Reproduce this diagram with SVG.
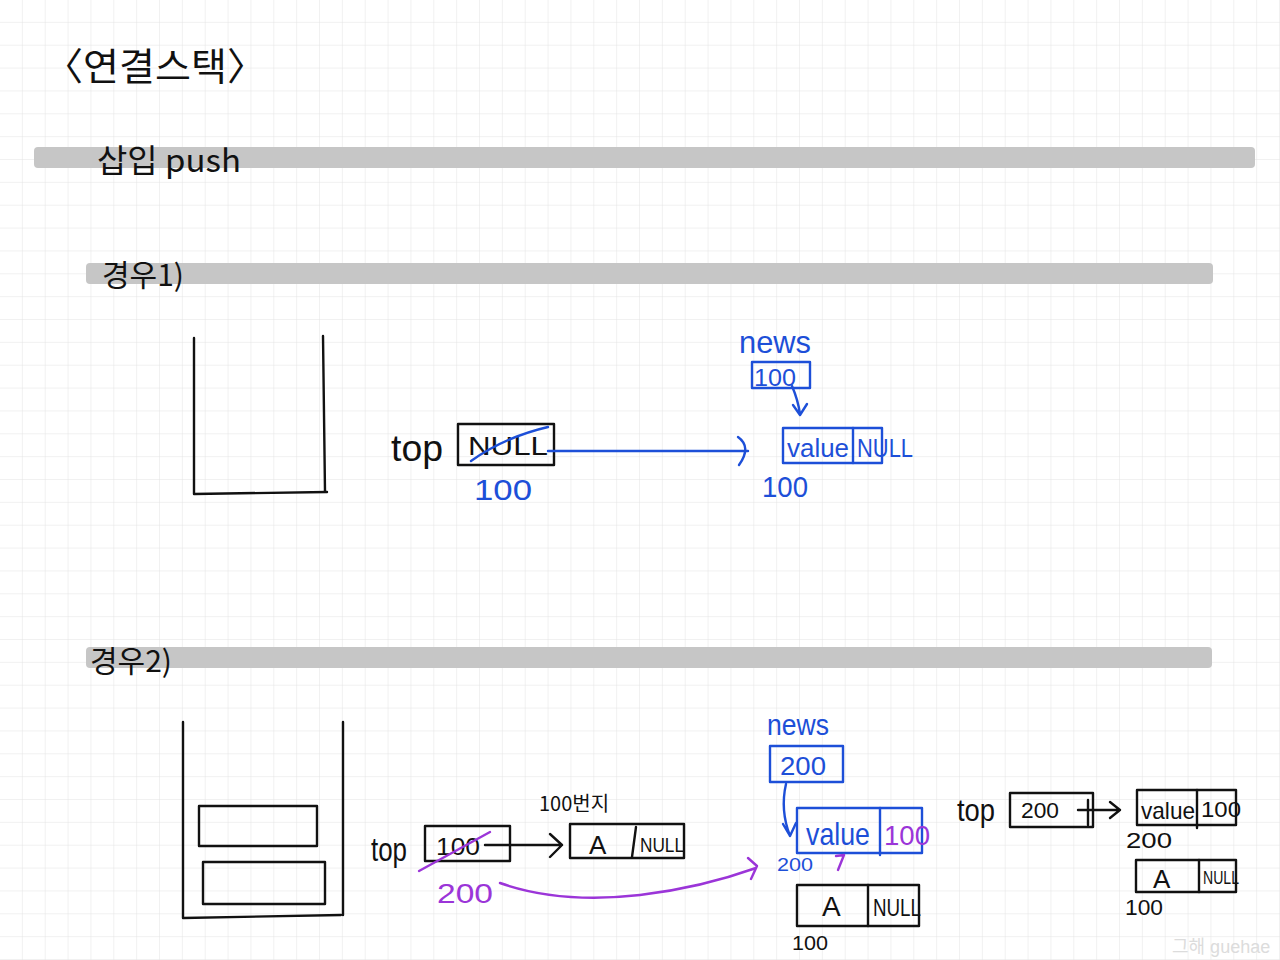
<svg xmlns="http://www.w3.org/2000/svg" width="1280" height="960" viewBox="0 0 1280 960">
<defs>
<pattern id="grid" width="22.857" height="22.857" patternUnits="userSpaceOnUse">
<path d="M22.857 0V22.857M0 22.857H22.857" fill="none" stroke="#e4e4e4" stroke-width="1"/>
</pattern>
<style>
.k{fill:#111;font-family:"Noto Sans CJK KR","Liberation Sans",sans-serif}
.t{font-family:"Liberation Sans","Noto Sans CJK KR",sans-serif}
.blk{fill:#111}
.blu{fill:#1d4fd8}
.pur{fill:#9b35d8}
.sb{fill:none;stroke:#111;stroke-width:2.4;stroke-linecap:round;stroke-linejoin:round}
.su{fill:none;stroke:#1d4fd8;stroke-width:2.4;stroke-linecap:round;stroke-linejoin:round}
.sp{fill:none;stroke:#9b35d8;stroke-width:2.4;stroke-linecap:round;stroke-linejoin:round}
.bar{fill:#c6c6c6}
</style>
</defs>
<rect width="1280" height="960" fill="#fff"/>
<rect width="1280" height="960" fill="url(#grid)"/>

<g id="headings">
<text class="k" x="44" y="80" font-size="38" textLength="222" lengthAdjust="spacingAndGlyphs">〈연결스택〉</text>
<rect class="bar" x="34" y="147" width="1221" height="21" rx="4"/>
<text class="k" x="97" y="172" font-size="32" textLength="144" lengthAdjust="spacingAndGlyphs">삽입 push</text>
<rect class="bar" x="86" y="263" width="1127" height="21" rx="4"/>
<text class="k" x="102" y="286" font-size="30">경우1)</text>
<rect class="bar" x="86" y="647" width="1126" height="21" rx="4"/>
<text class="k" x="90" y="672" font-size="30">경우2)</text>
</g>

<g id="case1-stack">
<path class="sb" d="M194 338V494L327 492M323 336L325 492"/>
</g>

<g id="case1-top">
<text class="t blk" x="391" y="461" font-size="36" textLength="52" lengthAdjust="spacingAndGlyphs">top</text>
<rect class="sb" x="458" y="424" width="96" height="41"/>
<text class="t blk" x="468" y="455" font-size="26" textLength="80" lengthAdjust="spacingAndGlyphs">NULL</text>
<path class="su" d="M471 461Q505 437 548 427"/>
<text class="t blu" x="474" y="500" font-size="30" textLength="58" lengthAdjust="spacingAndGlyphs">100</text>
</g>

<g id="case1-news">
<text class="t blu" x="739" y="353" font-size="32" textLength="72" lengthAdjust="spacingAndGlyphs">news</text>
<rect class="su" x="752" y="362" width="58" height="26"/>
<text class="t blu" x="754" y="386" font-size="24" textLength="42" lengthAdjust="spacingAndGlyphs">100</text>
</g>

<g id="case1-node">
<rect class="su" x="783" y="428" width="99" height="35"/>
<path class="su" d="M853 428V463"/>
<text class="t blu" x="787" y="457" font-size="26" textLength="62" lengthAdjust="spacingAndGlyphs">value</text>
<text class="t blu" x="857" y="457" font-size="26" textLength="56" lengthAdjust="spacingAndGlyphs">NULL</text>
<text class="t blu" x="762" y="497" font-size="30" textLength="46" lengthAdjust="spacingAndGlyphs">100</text>
</g>

<g id="case2-stack">
<path class="sb" d="M183 722V918L341 915M343 722V915"/>
<rect class="sb" x="199" y="806" width="118" height="40"/>
<rect class="sb" x="203" y="862" width="122" height="42"/>
</g>

<g id="case2-top">
<text class="t blk" x="371" y="861" font-size="34" textLength="36" lengthAdjust="spacingAndGlyphs">top</text>
<rect class="sb" x="425" y="826" width="85" height="35"/>
<text class="t blk" x="436" y="855" font-size="24" textLength="44" lengthAdjust="spacingAndGlyphs">100</text>
<path class="sp" d="M419 871L490 832"/>
<text class="t pur" x="437" y="903" font-size="28" textLength="56" lengthAdjust="spacingAndGlyphs">200</text>
</g>

<g id="case2-node100">
<text class="k" x="539" y="811" font-size="20">100번지</text>
<rect class="sb" x="570" y="824" width="114" height="34"/>
<path class="sb" d="M636 827L632 857"/>
<text class="t blk" x="589" y="854" font-size="26">A</text>
<text class="t blk" x="640" y="852" font-size="20" textLength="44" lengthAdjust="spacingAndGlyphs">NULL</text>
</g>

<g id="case2-news">
<text class="t blu" x="767" y="735" font-size="30" textLength="62" lengthAdjust="spacingAndGlyphs">news</text>
<rect class="su" x="770" y="746" width="73" height="36"/>
<text class="t blu" x="780" y="775" font-size="26" textLength="46" lengthAdjust="spacingAndGlyphs">200</text>
</g>

<g id="case2-newnode">
<rect class="su" x="797" y="808" width="125" height="45"/>
<path class="su" d="M880 808V855"/>
<text class="t blu" x="806" y="845" font-size="32" textLength="64" lengthAdjust="spacingAndGlyphs">value</text>
<text class="t pur" x="884" y="845" font-size="28" textLength="46" lengthAdjust="spacingAndGlyphs">100</text>
<text class="t blu" x="777" y="871" font-size="18" textLength="36" lengthAdjust="spacingAndGlyphs">200</text>
<path class="sp" d="M836 856L844 855L838 870"/>
</g>

<g id="case2-oldnode">
<rect class="sb" x="797" y="885" width="122" height="41"/>
<path class="sb" d="M868 885V926"/>
<text class="t blk" x="822" y="916" font-size="28">A</text>
<text class="t blk" x="873" y="916" font-size="24" textLength="48" lengthAdjust="spacingAndGlyphs">NULL</text>
<text class="t blk" x="792" y="950" font-size="20" textLength="36" lengthAdjust="spacingAndGlyphs">100</text>
</g>

<g id="result-top">
<text class="t blk" x="957" y="821" font-size="32" textLength="38" lengthAdjust="spacingAndGlyphs">top</text>
<rect class="sb" x="1010" y="793" width="83" height="34"/>
<text class="t blk" x="1021" y="818" font-size="22" textLength="38" lengthAdjust="spacingAndGlyphs">200</text>
</g>

<g id="result-node200">
<rect class="sb" x="1137" y="790" width="99" height="35"/>
<path class="sb" d="M1197 790V828"/>
<text class="t blk" x="1141" y="819" font-size="24" textLength="54" lengthAdjust="spacingAndGlyphs">value</text>
<text class="t blk" x="1201" y="817" font-size="22" textLength="40" lengthAdjust="spacingAndGlyphs">100</text>
<text class="t blk" x="1126" y="848" font-size="22" textLength="46" lengthAdjust="spacingAndGlyphs">200</text>
</g>

<g id="result-node100">
<rect class="sb" x="1136" y="860" width="100" height="32"/>
<path class="sb" d="M1199 860V892"/>
<text class="t blk" x="1153" y="888" font-size="26">A</text>
<text class="t blk" x="1203" y="884" font-size="18" textLength="36" lengthAdjust="spacingAndGlyphs">NULL</text>
<text class="t blk" x="1125" y="915" font-size="22" textLength="38" lengthAdjust="spacingAndGlyphs">100</text>
</g>

<g id="connectors">
<path class="su" d="M548 451H748M738 437Q752 447 739 465"/>
<path class="su" d="M792 386Q798 400 800 414M793 405L800 415L807 404"/>
<path class="sb" d="M485 845H562M550 834L562 845L550 857"/>
<path class="sp" d="M500 883Q560 904 640 895Q700 888 756 868M748 858L757 866L751 879"/>
<path class="su" d="M786 784Q780 810 790 836M783 824L790 836L796 823"/>
<path class="sb" d="M1078 810H1120M1110 802L1120 810L1110 818M1088 800V825"/>
</g>

<g id="watermark">
<text x="1172" y="953" font-size="18" fill="#dcdcdc" font-family="'Liberation Sans','Noto Sans CJK KR',sans-serif">그해 guehae</text>
</g>
</svg>
